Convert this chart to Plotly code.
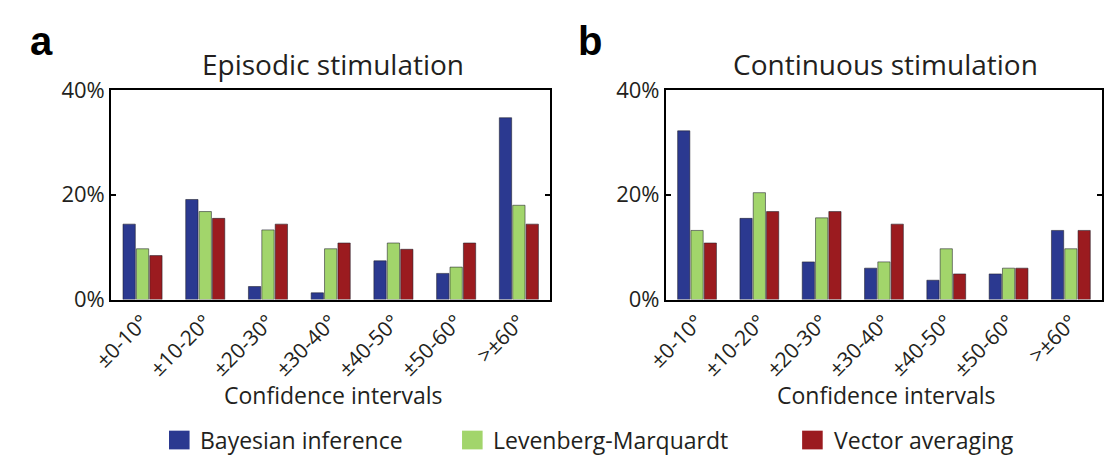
import plotly.graph_objects as go

# Angular error bins shared by both panels
bins = ["±0-10°", "±10-20°", "±20-30°", "±30-40°", "±40-50°", "±50-60°", ">±60°"]
methods = ["Bayesian inference", "Levenberg-Marquardt", "Vector averaging"]
colors = ["#2b3990", "#a2d56b", "#9b1b1f"]

# Percent of trials per confidence interval, episodic stimulation
episodic_bayes = [14.4, 19.1, 2.5, 1.3, 7.4, 5.0, 34.7]
episodic_lm = [9.7, 16.8, 13.3, 9.7, 10.8, 6.2, 18.0]
episodic_va = [8.4, 15.5, 14.4, 10.8, 9.6, 10.8, 14.4]

# Percent of trials per confidence interval, continuous stimulation
continuous_bayes = [32.2, 15.5, 7.2, 6.0, 3.7, 4.9, 13.2]
continuous_lm = [13.2, 20.4, 15.6, 7.2, 9.7, 6.0, 9.7]
continuous_va = [10.8, 16.8, 16.8, 14.4, 4.9, 6.0, 13.2]

y_ticks = [0, 20, 40]
y_ticklabels = ["0%", "20%", "40%"]

panel_titles = ["Episodic stimulation", "Continuous stimulation"]
panel_letters = ["a", "b"]
x_title = "Confidence intervals"

W, H = 1104, 469
TEXT = "#231f20"
FONT = "Open Sans, DejaVu Sans, sans-serif"

# panel frames in pixels (left, right); shared top/bottom
frames = [(92, 540), (658, 1103)]
top_px, bottom_px = 79, 303


def px_x(x):
    return x / W


def px_y(y):
    return 1 - y / H


fig = go.Figure()

panels = [
    (episodic_bayes, episodic_lm, episodic_va),
    (continuous_bayes, continuous_lm, continuous_va),
]

for p, series in enumerate(panels):
    xa = "x" if p == 0 else "x2"
    ya = "y" if p == 0 else "y2"
    for name, vals, col in zip(methods, series, colors):
        fig.add_trace(go.Bar(
            x=bins, y=vals, name=name, xaxis=xa, yaxis=ya,
            marker=dict(color=col, line=dict(color="rgba(30,30,40,0.55)", width=1)),
            showlegend=False, hoverinfo="x+y",
        ))

axis_common_x = dict(
    type="category", showline=True, linecolor="black", linewidth=2, mirror=True,
    ticks="", tickangle=-45, tickfont=dict(size=21, color=TEXT, family=FONT),
    showgrid=False, zeroline=False, layer="above traces", fixedrange=True,
)
axis_common_y = dict(
    range=[0, 40], tickvals=y_ticks, ticktext=y_ticklabels, showline=True,
    linecolor="black", linewidth=2, mirror="ticks", ticks="inside", ticklen=5,
    tickwidth=2, tickcolor="black", showgrid=False, zeroline=False,
    tickfont=dict(size=22, color=TEXT, family=FONT), layer="above traces",
    fixedrange=True,
)
# inward tick marks along the top edge, one per bin
axis_top = dict(
    range=[-0.5, len(bins) - 0.5], tickvals=list(range(len(bins))), ticks="inside",
    ticklen=5, tickwidth=2, tickcolor="black", showticklabels=False,
    showgrid=False, zeroline=False, showline=False, side="top", fixedrange=True,
)

dom = [[px_x(l), px_x(r)] for l, r in frames]
ydom = [px_y(bottom_px), px_y(top_px)]

fig.update_layout(
    width=W, height=H, margin=dict(l=0, r=0, t=0, b=0),
    paper_bgcolor="white", plot_bgcolor="white",
    barmode="group", bargap=0.36, bargroupgap=0.08,
    font=dict(family=FONT, color=TEXT),
    xaxis=dict(axis_common_x, domain=dom[0], anchor="y"),
    yaxis=dict(axis_common_y, domain=ydom, anchor="x"),
    xaxis2=dict(axis_common_x, domain=dom[1], anchor="y2"),
    yaxis2=dict(axis_common_y, domain=ydom, anchor="x2"),
    xaxis3=dict(axis_top, domain=dom[0], anchor="y", overlaying="x"),
    xaxis4=dict(axis_top, domain=dom[1], anchor="y2", overlaying="x2"),
)

annotations = []
shapes = []
for p in range(2):
    l, r = frames[p]
    cx = (l + r) / 2
    annotations.append(dict(
        text=panel_titles[p], x=px_x(cx + 2), y=px_y(51), xref="paper", yref="paper",
        showarrow=False, font=dict(size=28, color=TEXT, family=FONT),
        xanchor="center", yanchor="middle",
    ))
    annotations.append(dict(
        text=x_title, x=px_x(cx + 2), y=px_y(405), xref="paper", yref="paper",
        showarrow=False, font=dict(size=23, color=TEXT, family=FONT),
        xanchor="center", yanchor="middle",
    ))
for letter, lx in zip(panel_letters, [7, 566]):
    annotations.append(dict(
        text="<b>%s</b>" % letter, x=px_x(lx), y=px_y(27), xref="paper", yref="paper",
        showarrow=False, font=dict(size=40, color="black", family="Liberation Sans, Arial, sans-serif"),
        xanchor="left", yanchor="middle",
    ))

# legend row: swatch + label for each method
legend_x = [151, 450, 797]
legend_y = 453
for name, col, lx in zip(methods, colors, legend_x):
    shapes.append(dict(
        type="rect", xref="paper", yref="paper",
        x0=px_x(lx), x1=px_x(lx + 21), y0=px_y(legend_y + 10), y1=px_y(legend_y - 10),
        fillcolor=col, line=dict(width=0),
    ))
    annotations.append(dict(
        text=name, x=px_x(lx + 30), y=px_y(legend_y), xref="paper", yref="paper",
        showarrow=False, font=dict(size=23, color=TEXT, family=FONT),
        xanchor="left", yanchor="middle",
    ))

fig.update_layout(annotations=annotations, shapes=shapes)

fig.write_html("out.html")
